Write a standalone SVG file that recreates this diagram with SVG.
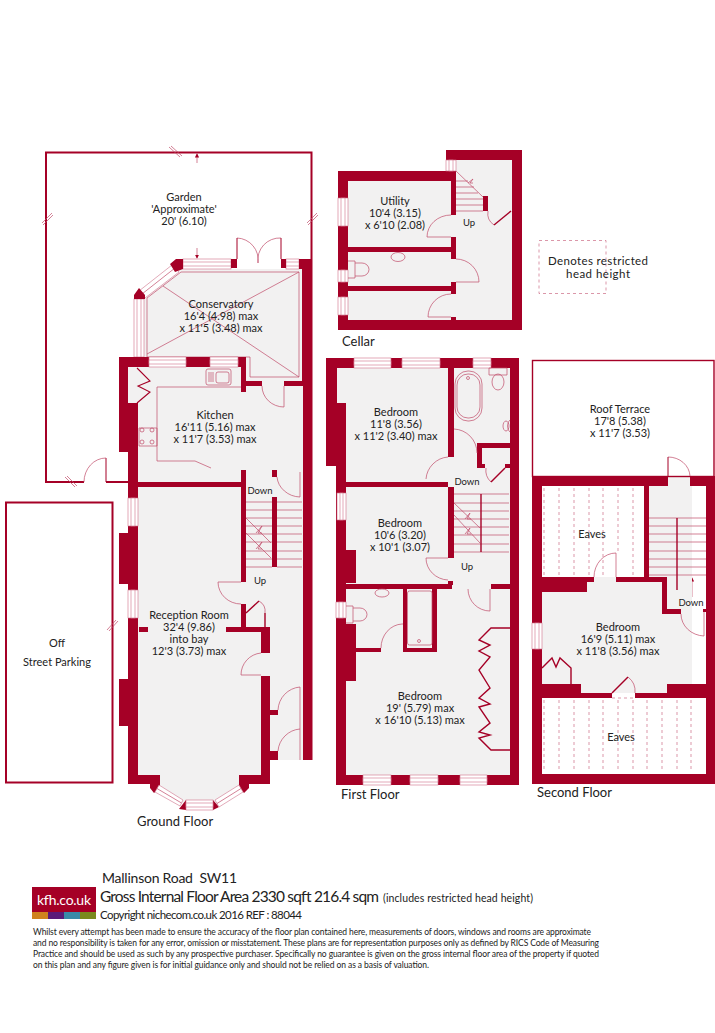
<svg xmlns="http://www.w3.org/2000/svg" width="715" height="1033" viewBox="0 0 715 1033">
<defs>
<style>
.w{fill:#a50026;stroke:none}
.f{fill:#f2f1f1;stroke:none}
.l{fill:none;stroke:#c04a68;stroke-width:.7}
.o{fill:none;stroke:#a50026;stroke-width:2}
.h{fill:none;stroke:#a50026;stroke-width:1.4}
.d{fill:none;stroke:#cc6a84;stroke-width:.7;stroke-dasharray:3 3}
.win{fill:#fff;stroke:#cf7189;stroke-width:.6}
text{font-family:"Lato","Open Sans","Liberation Sans",sans-serif;fill:#222;font-size:11px}
.t{text-anchor:middle}
.s{font-size:9.500px}
.big{font-size:13px}
.fine{font-size:8.500px}
</style>
<marker id="a" markerWidth="6" markerHeight="6" refX="5" refY="3" orient="auto"><path d="M0 0L6 3L0 6z" fill="#a50026"/></marker>
</defs>
<rect width="715" height="1033" fill="#fff"/>

<g id="connectors">
<path class="l" d="M197 163V154" marker-end="url(#a)"/>
<path class="l" d="M197 248V258" marker-end="url(#a)"/>
<path class="l" d="M259 497V516" marker-end="url(#a)"/>
<path class="l" d="M259 577V553" marker-end="url(#a)"/>
<path class="l" d="M469 216V198" marker-end="url(#a)"/>
<path class="l" d="M467 488V508" marker-end="url(#a)"/>
<path class="l" d="M467 561V540" marker-end="url(#a)"/>
<path class="l" d="M692 597V578" marker-end="url(#a)"/>
</g>

<g id="garden">
<path class="o" d="M84 482H46V152.500H311.500V259M106 482H128"/>
<path class="l" d="M169 147L180 157M171 146L182 156M42 223L52 213M43 225L53 215M307 223L317 213M308 225L318 215M65 477L75 487M67 476L77 486"/>
<path class="o" style="stroke-width:1" d="M106 482V458"/>
<path class="l" d="M106 458A22 24 0 0 0 84 482"/>
<text class="t" x="184" y="201">Garden</text>
<text class="t" x="184" y="213">'Approximate'</text>
<text class="t" x="184" y="225">20' (6.10)</text>
</g>

<g id="parking">
<rect x="6" y="502.500" width="106.500" height="280" fill="#fff" stroke="#a50026" stroke-width="2"/>
<path class="l" d="M107 630L116 620M109 631L118 621"/>
<text class="t" x="57" y="647">Off</text>
<text class="t" x="57" y="666">Street Parking</text>
</g>

<g id="ground-floor">
<path class="f" d="M144 299L180 269H303V760H270V784H240L216 806H186L158 784H138V403H128V367H144z"/>
<g id="conservatory">
<path class="l" d="M147 298L181 272H299V377H250V357H147zM147 354L299 272M163 286L299 377"/>
<rect class="win" x="183" y="259" width="48" height="10"/><rect class="win" x="183" y="262" width="48" height="4"/>
<rect class="win" x="286" y="259" width="13" height="10"/><rect class="win" x="286" y="262" width="13" height="4"/>
<rect class="win" x="134" y="299" width="10" height="58"/><rect class="win" x="137" y="299" width="4" height="58"/>
<path class="win" d="M139 291L172 265L179 272L145 298z"/>
<path class="l" d="M142 294L175 268"/>
<path class="w" d="M170 264L176 259H183V269L175 272zM134 295L139 288L145 295V299H134zM231 259H237V268H231zM281 259H286V268H281zM299 259H312.500V760H303V386H284V381H302V269H299zM241 358H246V381H262V386H246V392H241V367H238z"/>
<path class="l" d="M237 238A22 22 0 0 1 258 263M281 238A22 22 0 0 0 258 263"/>
<path class="h" style="stroke-width:1" d="M237 238V259M281 238V259"/>
<text class="t" x="221" y="308">Conservatory</text>
<text class="t" x="221" y="320">16'4 (4.98) max</text>
<text class="t" x="221" y="332">x 11'5 (3.48) max</text>
</g>
<g id="kitchen">
<path class="w" d="M119 357H149V367H186V357H210V367H238V357H246V367H128V403H138V486H128V452H119zM128 482H241V470H277V477H272V470H246V487H128z"/>
<rect class="win" x="149" y="357" width="37" height="10"/><rect class="win" x="149" y="360" width="37" height="4"/>
<rect class="win" x="210" y="357" width="28" height="10"/><rect class="win" x="210" y="360" width="28" height="4"/>
<path class="h" style="stroke-width:1.100" d="M137 368L150 381L138 386L150 392L137 403"/>
<path class="l" d="M241 387H157V461H195L211 468M139 428H157V446H139z"/>
<circle class="l" cx="142" cy="430" r="2"/><circle class="l" cx="152" cy="430" r="2"/><circle class="l" cx="142" cy="442" r="2"/><circle class="l" cx="152" cy="442" r="2"/>
<rect class="l" x="206" y="369" width="25" height="16" rx="2"/><rect class="l" x="216" y="372" width="13" height="11" rx="2"/>
<path class="l" d="M208 373H214M208 375H214M208 377H214M208 379H214M208 381H214"/>
<path class="l" d="M284 386V407A22 21 0 0 1 262 386M277 477A24 22 0 0 0 300 497M300 472V497"/>
<path class="w" d="M284 381H302V386H284z"/>
<text class="t" x="215" y="419">Kitchen</text>
<text class="t" x="215" y="431">16'11 (5.16) max</text>
<text class="t" x="215" y="443">x 11'7 (3.53) max</text>
</g>
<g id="reception-room">
<path class="w" d="M128 486H138V775H160V784H128V726H119V679H128V584H119V533H128zM241 470H246V582H241zM272 497H277V567H272zM241 604H246V627H270V653H261V632H226V627H241zM261 676H270V784H239V775H261zM270 710H278V715H270zM270 751H278V760H270zM139 627H148V632H139z"/>
<path class="w" d="M150 784H160V787L154 793L150 788zM239 784H249V788L244 793L239 787zM179 809L186 800V810zM213 800L219 807L213 810z"/>
<rect class="win" x="128" y="498" width="10" height="28"/><rect class="win" x="131" y="498" width="4" height="28"/>
<rect class="win" x="128" y="590" width="10" height="28"/><rect class="win" x="131" y="590" width="4" height="28"/>
<path class="win" d="M159 785L183 800L180 806L155 792z"/><path class="l" d="M157 788.500L181.500 803"/>
<rect class="win" x="186" y="800" width="27" height="10"/><rect class="win" x="186" y="803" width="27" height="4"/>
<path class="win" d="M215 800L239 785L243 792L219 807z"/><path class="l" d="M217 803.500L241 788.500"/>
<path class="l" d="M246 502H272M246 510H272M246 518H272M246 526H272M246 534H272M246 542H272M246 551H272M246 559H272M246 567H272"/>
<path class="l" d="M277 502H302M277 510H302M277 518H302M277 526H302M277 534H302M277 542H302M277 551H302M277 559H302M277 567H302"/>
<path class="l" d="M246 518L271 543M246 533L271 558M256 533L262 526L258 533L262 533M256 549L262 542L258 549L262 549"/>
<path class="l" d="M218 582H241M218 582A23 22 0 0 0 241 604"/>
<path class="h" d="M246 613L259 601M265 613V627"/>
<path class="l" d="M259 601A12 12 0 0 1 265 613"/>
<path class="l" d="M261 653A22 22 0 0 0 241 675H261"/>
<path class="l" d="M278 710A24 24 0 0 1 300 687V760M278 751A24 24 0 0 1 300 729"/>
<text class="t s" x="260" y="494">Down</text>
<text class="t s" x="260" y="584">Up</text>
<text class="t" x="189" y="619">Reception Room</text>
<text class="t" x="189" y="631">32'4 (9.86)</text>
<text class="t" x="189" y="643">into bay</text>
<text class="t" x="189" y="655">12'3 (3.73) max</text>
</g>
<text class="big" x="137" y="826">Ground Floor</text>
</g>

<g id="cellar">
<path class="f" d="M348 181H456V160H512V320H348z"/>
<path class="w" d="M338 171H446V150H522V330H338zM348 181V320H512V160H456V181z" fill-rule="evenodd"/>
<path class="w" d="M348 247H451V252H348zM348 286H451V291H348zM451 171H456V215H451zM451 237H456V259H451zM451 282H456V294H451zM451 317H456V320H451zM483 196H488V211H483z"/>
<rect class="win" x="338" y="198" width="10" height="28"/><rect class="win" x="341" y="198" width="4" height="28"/>
<rect class="win" x="338" y="270" width="10" height="12"/><rect class="win" x="341" y="270" width="4" height="12"/>
<rect class="win" x="338" y="297" width="10" height="18"/><rect class="win" x="341" y="297" width="4" height="18"/>
<rect class="win" x="446" y="160" width="10" height="11"/><rect class="win" x="449" y="160" width="4" height="11"/>
<path class="l" d="M456 171L483 197M456 181H468M456 187H474M456 193H478M456 199H483M456 205H483M456 211H483M468 183L473 179L470 183L473 183"/>
<path class="l" d="M451 215A24 22 0 0 0 427 237H451M456 259A23 23 0 0 1 479 282H456M451 294A23 23 0 0 0 428 317H451M488 211A14 14 0 0 0 494 225"/>
<path class="h" d="M494 225L511 211"/>
<ellipse class="l" cx="398" cy="257" rx="7" ry="4.500"/>
<path class="l" d="M348 261H355V278H348M355 263H362A7 6.500 0 0 1 362 276H355"/>
<text class="t" x="395" y="205">Utility</text>
<text class="t" x="395" y="217">10'4 (3.15)</text>
<text class="t" x="395" y="229">x 6'10 (2.08)</text>
<text class="t s" x="469" y="226">Up</text>
<text x="342" y="346" class="big">Cellar</text>
</g>

<g id="key">
<rect class="d" x="539" y="240.500" width="67" height="53"/>
<text class="t" style="font-size:11.500px" x="598" y="264.500" textLength="100">Denotes restricted</text>
<text class="t" style="font-size:11.500px" x="598" y="277.500" textLength="64">head height</text>
</g>

<g id="first-floor">
<rect class="f" x="337" y="368" width="173" height="407"/>
<path class="w" d="M326 358H519V785H336V466H326zM337 368V775H510V368z" fill-rule="evenodd"/>
<path class="w" d="M337 403H346V466H337zM336 466H346V775H336zM346 550H356V583H346zM346 624H356V681H346z"/>
<path class="w" d="M346 482H448V368H454V457H448V487H346zM448 487H454V558H448zM448 581H453V585H448zM346 584H452V589H346zM491 584H510V589H491zM477 443H510V448H482V464H485V468H477zM505 464H510V468H505zM403 589H407V648H432V589H437V652H403zM356 648H381V652H356z"/>
<rect class="win" x="354" y="358" width="37" height="10"/><rect class="win" x="354" y="361" width="37" height="4"/>
<rect class="win" x="402" y="358" width="38" height="10"/><rect class="win" x="402" y="361" width="38" height="4"/>
<rect class="win" x="473" y="358" width="18" height="10"/><rect class="win" x="473" y="361" width="18" height="4"/>
<rect class="win" x="337" y="493" width="9" height="27"/><rect class="win" x="340" y="493" width="3" height="27"/>
<rect class="win" x="336" y="602" width="10" height="16"/><rect class="win" x="339" y="602" width="4" height="16"/>
<rect class="win" x="363" y="775" width="28" height="10"/><rect class="win" x="363" y="778" width="28" height="4"/>
<rect class="win" x="410" y="775" width="28" height="10"/><rect class="win" x="410" y="778" width="28" height="4"/>
<rect class="win" x="460" y="775" width="27" height="10"/><rect class="win" x="460" y="778" width="27" height="4"/>
<g id="first-bedroom-1">
<path class="l" d="M448 457A24 24 0 0 0 426 479M454 429A24 24 0 0 1 477 453"/>
<text class="t" x="396" y="416">Bedroom</text>
<text class="t" x="396" y="428">11'8 (3.56)</text>
<text class="t" x="396" y="440">x 11'2 (3.40) max</text>
</g>
<g id="first-bath">
<rect class="l" x="455" y="371" width="27" height="50" rx="13"/><rect class="l" x="457" y="374" width="23" height="44" rx="11"/>
<circle class="l" cx="468" cy="378" r="1.500"/>
<path class="l" d="M489 368H507V375H489z"/><ellipse class="l" cx="498" cy="382" rx="6" ry="8"/>
<path class="l" d="M510 420A5 7 0 0 0 510 432"/><ellipse class="l" cx="506" cy="426" rx="3" ry="5"/>
<path class="l" d="M486 468A16 16 0 0 0 491 482"/><path class="h" d="M491 482L505 468"/>
</g>
<g id="first-stairs">
<path class="l" d="M454 494H509M454 503H509M454 511H509M454 519H509M454 527H509M454 535H509M454 544H509M454 552H509"/>
<path class="h" d="M481 494V552"/>
<path class="l" d="M454 503L480 528M454 515L480 543M465 519L470 513L467 519L471 519M465 534L470 528L467 534L471 534"/>
<path class="l" d="M426 558H448M448 580A23 22 0 0 1 426 558"/>
<text class="t s" x="467" y="485">Down</text>
<text class="t s" x="467" y="570">Up</text>
</g>
<g id="first-bedroom-2">
<text class="t" x="400" y="527">Bedroom</text>
<text class="t" x="400" y="539">10'6 (3.20)</text>
<text class="t" x="400" y="551">x 10'1 (3.07)</text>
</g>
<g id="first-bedroom-3">
<ellipse class="l" cx="382" cy="593" rx="7" ry="4"/>
<path class="l" d="M346 606H353V623H346M353 608H360A7 6.500 0 0 1 360 621H353"/>
<rect class="l" x="407.500" y="591" width="24.500" height="54" rx="2"/><circle class="l" cx="419" cy="641" r="1.500"/>
<path class="l" d="M381 648A22 24 0 0 1 402 624H403"/>
<path class="l" d="M468 589A22 22 0 0 0 490 611V589"/>
<path class="h" d="M510 628H491L479 640L490 645L479 651L490 657L479 670L490 688L479 698L490 704L479 707L490 723L479 732L490 735L479 738L491 750H510"/>
<text class="t" x="420" y="700">Bedroom</text>
<text class="t" x="420" y="712">19' (5.79) max</text>
<text class="t" x="420" y="724">x 16'10 (5.13) max</text>
</g>
<text x="341" y="799" class="big">First Floor</text>
</g>

<g id="second-floor">
<path class="f" d="M649 486H668V476H690V486H692V684H667V693H581V684H542V592H587V582H594V577H616V582H662V577H649z"/>
<rect x="532.500" y="360.500" width="181.500" height="116" fill="#fff" stroke="#a50026" stroke-width="1.400"/>
<path class="w" d="M532 476H668V486H542V774H706V486H690V476H715V784H532z"/>
<path class="w" d="M644 486H649V577H644zM616 577H662V582H616zM662 577H667V614H662zM667 609H681V614H667zM542 577H587V592H542zM587 577H594V582H587zM542 684H581V693H612V698H542zM635 693H667V684H706V698H635z"/>
<rect class="win" x="532" y="623" width="10" height="26"/><rect class="win" x="535" y="623" width="4" height="26"/>
<g id="roof-terrace">
<path class="l" d="M668 457A22 20 0 0 1 690 476"/>
<path class="o" style="stroke-width:1" d="M668 476V457"/>
<text class="t" x="620" y="413">Roof Terrace</text>
<text class="t" x="620" y="425">17'8 (5.38)</text>
<text class="t" x="620" y="437">x 11'7 (3.53)</text>
</g>
<g id="second-eaves">
<path class="d" d="M544 488V576M559 488V576M574 488V576M589 488V576M603 488V576M618 488V553M633 488V576"/>
<path class="d" d="M544 700V772M559 700V772M574 700V772M589 700V772M603 700V772M618 700V772M633 700V772M647 700V772M662 700V772M677 700V772M691 700V772"/>
<text class="t" x="592" y="538">Eaves</text>
<text class="t" x="621" y="741">Eaves</text>
</g>
<g id="second-stairs">
<path class="l" d="M649 518H706M649 526H706M649 534H706M649 542H706M649 551H706M649 559H706M649 567H706M649 575H706"/>
<path class="h" d="M677 518V590"/>
<text class="t s" x="691" y="606">Down</text>
<path class="l" d="M681 614A24 22 0 0 0 704 636V612"/>
<path class="w" d="M703 609H706V612H703z"/>
</g>
<g id="second-bedroom">
<path class="l" d="M594 577A22 24 0 0 1 616 553V577"/>
<path class="h" d="M542 668L552 658L556 667L560 658L571 668V684"/>
<path class="h" d="M612 693L628 677"/>
<path class="l" d="M628 677A18 18 0 0 1 635 693"/>
<path class="d" d="M612 698H635"/>
<text class="t" x="618" y="631">Bedroom</text>
<text class="t" x="618" y="643">16'9 (5.11) max</text>
<text class="t" x="618" y="655">x 11'8 (3.56) max</text>
</g>
<text x="537" y="797" class="big">Second Floor</text>
</g>

<g id="footer">
<rect x="32" y="887" width="64" height="32" fill="#a50026"/>
<rect x="32" y="912" width="16" height="7" fill="#d0821e"/><rect x="48" y="912" width="16" height="7" fill="#5a1a78"/><rect x="64" y="912" width="16" height="7" fill="#3a8aa8"/><rect x="80" y="912" width="16" height="7" fill="#7a8a1e"/>
<text x="37" y="905" style="font-size:14px;fill:#fff" textLength="54">kfh.co.uk</text>
<text x="102" y="883" style="font-size:14px;white-space:pre" textLength="135">Mallinson Road  SW11</text>
<text x="100" y="902" style="font-size:15.500px" textLength="279">Gross Internal Floor Area 2330 sqft 216.4 sqm</text>
<text x="383" y="902" style="font-size:10.500px" textLength="150">(includes restricted head height)</text>
<text x="100" y="919" style="font-size:11.500px" textLength="202">Copyright nichecom.co.uk 2016 REF : 88044</text>
<text class="fine" x="33" y="935" textLength="558">Whilst every attempt has been made to ensure the accuracy of the floor plan contained here, measurements of doors, windows and rooms are approximate</text>
<text class="fine" x="33" y="946" textLength="566">and no responsibility is taken for any error, omission or misstatement.  These plans are for representation purposes only as defined by RICS Code of Measuring</text>
<text class="fine" x="33" y="957" textLength="566">Practice and should be used as such by any prospective purchaser.  Specifically no guarantee is given on the gross internal floor area of the property if quoted</text>
<text class="fine" x="33" y="968" textLength="396">on this plan and any figure given is for initial guidance only and should not be relied on as a basis of valuation.</text>
</g>
</svg>
